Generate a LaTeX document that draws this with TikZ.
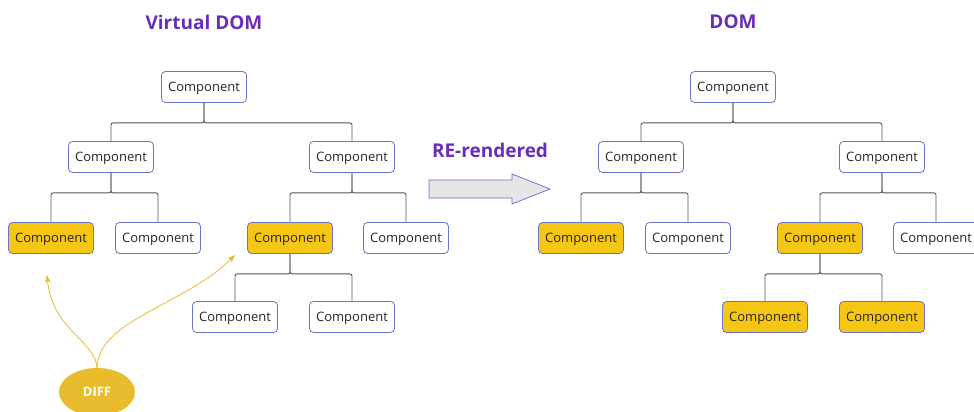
\documentclass[tikz,border=0pt]{standalone}
\usepackage{fontspec}
\setmainfont{Open Sans}
\usetikzlibrary{shapes.geometric,arrows.meta}
\definecolor{boxline}{HTML}{6A74CC}
\definecolor{hilite}{HTML}{F6C614}
\definecolor{titlepurple}{HTML}{6A2DB8}
\definecolor{wire}{HTML}{555555}
\definecolor{diffgold}{HTML}{E9BC2E}
\definecolor{arrowfill}{HTML}{E6E6E6}
\definecolor{arrowline}{HTML}{5F6CCB}
\tikzset{
  comp/.style={draw=boxline, line width=0.8pt, rounded corners=4pt, fill=white,
    minimum width=85pt, minimum height=31pt, inner sep=0pt,
    text depth=0pt, text height=9.3pt,
    font=\fontsize{13}{15}\selectfont, text=black!85},
  hot/.style={comp, fill=hilite},
  conn/.style={draw=wire, line width=0.9pt, rounded corners=2pt},
  title/.style={font=\fontsize{19}{22}\selectfont\bfseries, text=titlepurple},
  diffline/.style={draw=diffgold, line width=0.8pt, -{Stealth[length=8pt,width=6pt]}}
}
\begin{document}
\begin{tikzpicture}[x=1pt,y=-1pt]
\useasboundingbox (0,0) rectangle (974,412);

% headings
\node[title] (tv) at (204,22) {Virtual DOM};
\node[title] (td) at (733,22) {DOM};
\node[title] (tr) at (490,150) {RE-rendered};

% virtual tree
\node[comp] (a) at (204,87) {Component};
\node[comp] (a1) at (111,157) {Component};
\node[comp] (a2) at (352,157) {Component};
\node[hot]  (a11) at (51,238) {Component};
\node[comp] (a12) at (158,238) {Component};
\node[hot]  (a21) at (290,238) {Component};
\node[comp] (a22) at (406,238) {Component};
\node[comp] (a211) at (235,317) {Component};
\node[comp] (a212) at (352,317) {Component};

% real tree
\node[comp] (b) at (733,87) {Component};
\node[comp] (b1) at (641,157) {Component};
\node[comp] (b2) at (882,157) {Component};
\node[hot]  (b11) at (581,238) {Component};
\node[comp] (b12) at (688,238) {Component};
\node[hot]  (b21) at (820,238) {Component};
\node[comp] (b22) at (936,238) {Component};
\node[hot]  (b211) at (765,317) {Component};
\node[hot]  (b212) at (882,317) {Component};

% tree wiring
\foreach \p/\c in {a/a1,a/a2,a1/a11,a1/a12,a2/a21,a2/a22,a21/a211,a21/a212,
                   b/b1,b/b2,b1/b11,b1/b12,b2/b21,b2/b22,b21/b211,b21/b212}
  \draw[conn] (\p.south) -- ++(0,20) -| (\c.north);

% re-render arrow
\draw[draw=arrowline, fill=arrowfill, line width=0.7pt]
  (429,180) -- (512,180) -- (512,174) -- (550,189) -- (512,204) -- (512,198) -- (429,198) -- cycle;

% diff marker
\node[ellipse, fill=diffgold, minimum width=76pt, minimum height=48pt, inner sep=0pt,
      font=\fontsize{13}{15}\selectfont\bfseries, text=white] (diff) at (97,392) {DIFF};
\coordinate (t1) at (47,275);
\coordinate (t2) at (235,255);
\draw[diffline] (diff.north) .. controls (95,340) and (52,330) .. (t1);
\draw[diffline] (diff.north) .. controls (98,320) and (185,305) .. (t2);
\end{tikzpicture}
\end{document}
